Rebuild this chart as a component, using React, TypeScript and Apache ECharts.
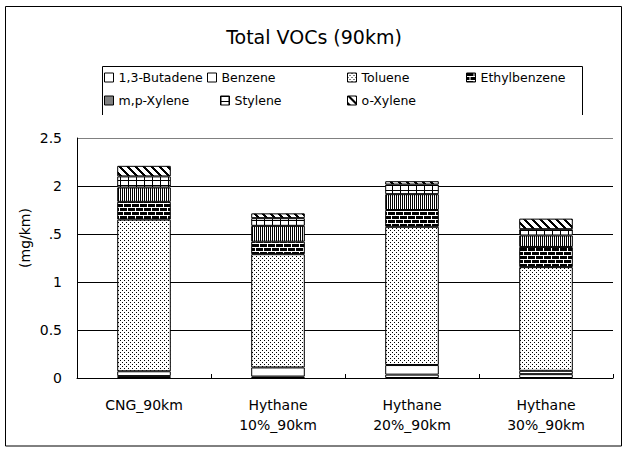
import React, { useEffect, useRef } from "react";
import * as echarts from "echarts";

const title = "Total VOCs (90km)";
const categories = ["CNG_90km", "Hythane\n10%_90km", "Hythane\n20%_90km", "Hythane\n30%_90km"];
const seriesNames = ["1,3-Butadene", "Benzene", "Toluene", "Ethylbenzene", "m,p-Xylene", "Stylene", "o-Xylene"];
const butadiene = [0.02, 0.015, 0.035, 0.04];
const benzene = [0.05, 0.095, 0.1, 0.035];
const toluene = [1.58, 1.18, 1.44, 1.08];
const ethylbenzene = [0.185, 0.13, 0.175, 0.21];
const mpXylene = [0.15, 0.165, 0.165, 0.12];
const stylene = [0.115, 0.08, 0.1, 0.065];
const oXylene = [0.11, 0.05, 0.035, 0.11];
const yTicks = [0, 0.5, 1, 1.5, 2, 2.5];
const yAxisName = "(mg/km)";

const FONT = "DejaVu Sans";

function makePattern(w: number, h: number, draw: (ctx: CanvasRenderingContext2D) => void) {
  const c = document.createElement("canvas");
  c.width = w;
  c.height = h;
  const ctx = c.getContext("2d") as CanvasRenderingContext2D;
  ctx.fillStyle = "#fff";
  ctx.fillRect(0, 0, w, h);
  ctx.fillStyle = "#000";
  draw(ctx);
  return { image: c, repeat: "repeat", imageWidth: w, imageHeight: h } as any;
}

export default function App() {
  const ref = useRef<HTMLDivElement>(null);
  useEffect(() => {
    document.body.style.margin = "0";
    if (!ref.current) return;
    const chart = echarts.init(ref.current, null, { renderer: "svg" });

    const white = "#ffffff";
    const dots = makePattern(4, 4, (ctx) => {
      ctx.fillRect(0, 0, 1, 1);
      ctx.fillRect(2, 2, 1, 1);
    });
    const brick = makePattern(8, 8, (ctx) => {
      ctx.fillRect(0, 0, 7, 3);
      ctx.fillRect(0, 4, 3, 3);
      ctx.fillRect(4, 4, 4, 3);
    });
    const vstripes = makePattern(2, 2, (ctx) => {
      ctx.fillRect(0, 0, 1, 2);
    });
    const grid = makePattern(8, 5, (ctx) => {
      ctx.fillRect(0, 0, 8, 1);
      ctx.fillRect(0, 0, 1, 5);
    });
    const diag = makePattern(8, 8, (ctx) => {
      for (let y = 0; y < 8; y++) {
        for (let x = 0; x < 8; x++) {
          const d = (((x - y) % 8) + 8) % 8;
          if (d <= 2) ctx.fillRect(x, y, 1, 1);
        }
      }
    });

    const fills = [white, white, dots, brick, vstripes, grid, diag];
    const values = [butadiene, benzene, toluene, ethylbenzene, mpXylene, stylene, oXylene];

    const legendPos = [
      [104, 71],
      [207, 71],
      [347, 71],
      [466, 71],
      [104, 94],
      [220, 94],
      [347, 94],
    ];

    const option: any = {
      animation: false,
      backgroundColor: "#fff",
      textStyle: { fontFamily: FONT, color: "#000" },
      title: {
        text: title,
        left: "center",
        top: 27,
        padding: 0,
        textStyle: { fontFamily: FONT, fontSize: 19, fontWeight: "normal", color: "#000" },
      },
      legend: seriesNames.map((n, i) => ({
        data: [n],
        left: legendPos[i][0],
        top: legendPos[i][1],
        padding: 0,
        itemWidth: 9,
        itemHeight: 9,
        icon: "rect",
        selectedMode: false,
        textStyle: { fontFamily: FONT, fontSize: 12.5, color: "#000" },
        itemStyle: { borderColor: "#000", borderWidth: 1 },
      })),
      grid: { left: 77, right: 15, top: 138, bottom: 73, containLabel: false },
      xAxis: {
        type: "category",
        data: categories,
        axisLine: { show: true, lineStyle: { color: "#000", width: 1 } },
        axisTick: { show: true, inside: true, length: 4, lineStyle: { color: "#000" } },
        axisLabel: { color: "#000", fontFamily: FONT, fontSize: 14, margin: 17, lineHeight: 20, interval: 0 },
      },
      yAxis: {
        type: "value",
        min: yTicks[0],
        max: yTicks[yTicks.length - 1],
        interval: 0.5,
        axisLine: { show: true, lineStyle: { color: "#000", width: 1 } },
        axisTick: { show: false },
        axisLabel: { color: "#000", fontFamily: FONT, fontSize: 14, margin: 15 },
        splitLine: {
          show: true,
          lineStyle: { color: ["#000", "#000", "#000", "#000", "#000", "#808080"], width: 1 },
        },
      },
      series: seriesNames.map((n, i) => ({
        name: n,
        type: "bar",
        stack: "total",
        barWidth: "40%",
        data: values[i],
        itemStyle: { color: fills[i], borderColor: "#000", borderWidth: 1 },
        emphasis: { disabled: true },
      })),
      graphic: [
        {
          type: "rect",
          z: 100,
          shape: { x: 5.5, y: 6.5, width: 616, height: 439.5 },
          style: { fill: "none", stroke: "#000", lineWidth: 1 },
          silent: true,
        },
        {
          type: "polyline",
          z: 100,
          shape: { points: [[102.5, 115], [102.5, 66.5], [582.5, 66.5], [582.5, 115]] },
          style: { fill: "none", stroke: "#000", lineWidth: 1 },
          silent: true,
        },
        {
          type: "rect",
          z: 100,
          shape: { x: 36, y: 226, width: 13, height: 20 },
          style: { fill: "#fff" },
          silent: true,
        },
        {
          type: "text",
          z: 101,
          x: 25,
          y: 238,
          rotation: Math.PI / 2,
          style: {
            text: yAxisName,
            fontFamily: FONT,
            fontSize: 14,
            fill: "#000",
            align: "center",
            verticalAlign: "middle",
          },
          silent: true,
        },
      ],
    };
    chart.setOption(option);
    return () => chart.dispose();
  }, []);
  return <div ref={ref} style={{ width: 628, height: 451 }} />;
}
